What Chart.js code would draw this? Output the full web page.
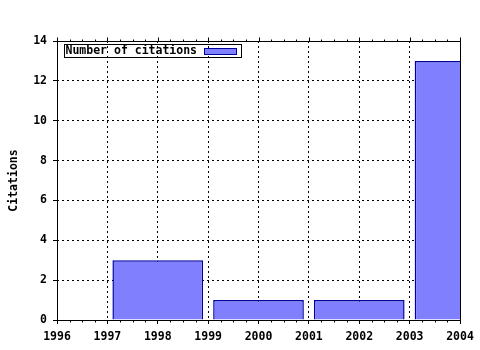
<!DOCTYPE html>
<html>
<head>
<meta charset="utf-8">
<script src="https://cdn.jsdelivr.net/npm/chart.js@4/dist/chart.umd.min.js"></script>
<style>
  html, body { margin: 0; padding: 0; background: #fff; }
  #wrap { width: 480px; height: 350px; }
</style>
</head>
<body>
<div id="wrap"><canvas id="chart" width="480" height="350"></canvas></div>
<script>
// données
const years = [1998, 2000, 2002, 2004];
const citations = [3, 1, 1, 13];
const xTicks = [1996, 1997, 1998, 1999, 2000, 2001, 2002, 2003, 2004];
const yTicks = [0, 2, 4, 6, 8, 10, 12, 14];
const seriesLabel = 'Number of citations';
const yTitle = 'Citations';

const FONT = { family: '"DejaVu Sans Mono", "Liberation Mono", monospace', size: 11.5, weight: 'bold' };
const FILL = '#8080ff';
const EDGE = '#0000a0';

// cadre, ticks miroir et légende façon gnuplot
const framePlugin = {
  id: 'frame',
  afterDraw(chart) {
    const ctx = chart.ctx;
    const a = chart.chartArea;
    const xs = chart.scales.x;
    ctx.save();
    ctx.strokeStyle = '#000';
    ctx.lineWidth = 1;
    ctx.setLineDash([]);
    const L = Math.round(a.left) + 0.5, R = Math.round(a.right) + 0.5;
    const T = Math.round(a.top) + 0.5, B = Math.round(a.bottom) + 0.5;
    ctx.strokeRect(L, T, R - L, B - T);

    // petits ticks tous les 0.25 an
    ctx.beginPath();
    for (let v = xTicks[0]; v <= xTicks[xTicks.length - 1] + 1e-6; v += 0.25) {
      const px = Math.round(xs.getPixelForValue(v)) + 0.5;
      const major = Math.abs(v - Math.round(v)) < 1e-6;
      const len = major ? 4 : 2;
      ctx.moveTo(px, T);
      ctx.lineTo(px, T - len);
      if (!major) {
        ctx.moveTo(px, B);
        ctx.lineTo(px, B + len);
      }
    }
    ctx.stroke();

    // légende
    const lx = L + 7, ly = T + 3;
    ctx.strokeRect(lx, ly, 177, 13);
    ctx.font = `${FONT.weight} ${FONT.size}px ${FONT.family}`;
    ctx.fillStyle = '#000';
    ctx.textBaseline = 'middle';
    ctx.textAlign = 'left';
    ctx.fillText(seriesLabel, lx + 1, ly + 7);
    ctx.fillStyle = FILL;
    ctx.fillRect(lx + 140, ly + 4, 32, 6);
    ctx.strokeStyle = EDGE;
    ctx.strokeRect(lx + 140, ly + 4, 32, 6);
    ctx.restore();
  }
};

new Chart(document.getElementById('chart'), {
  type: 'bar',
  data: {
    datasets: [{
      label: seriesLabel,
      data: years.map((y, i) => ({ x: y, y: citations[i] })),
      backgroundColor: FILL,
      borderColor: EDGE,
      borderWidth: 1.5,
      categoryPercentage: 1,
      barPercentage: 1.8
    }]
  },
  options: {
    responsive: false,
    animation: false,
    layout: { padding: { top: 41, right: 20, left: 0, bottom: 0 } },
    plugins: { legend: { display: false }, tooltip: { enabled: false } },
    scales: {
      x: {
        type: 'linear',
        offset: false,
        min: 1996,
        max: 2004,
        afterBuildTicks: s => { s.ticks = xTicks.map(v => ({ value: v })); },
        afterFit: s => { s.height = 30; },
        grid: { offset: false, color: '#000', lineWidth: 1, tickLength: 4, tickColor: '#000' },
        border: { display: false, dash: [2, 3] },
        ticks: { color: '#000', font: FONT, padding: 6, maxRotation: 0, callback: v => String(v) }
      },
      y: {
        min: 0,
        max: 14,
        afterBuildTicks: s => { s.ticks = yTicks.map(v => ({ value: v })); },
        afterFit: s => { s.width = 57; },
        grid: { color: '#000', lineWidth: 1, tickLength: 4, tickColor: '#000' },
        border: { display: false, dash: [2, 3] },
        ticks: { color: '#000', font: FONT, padding: 6 },
        title: { display: true, text: yTitle, color: '#000', font: FONT, padding: { top: 7, bottom: 0 } }
      }
    }
  },
  plugins: [framePlugin]
});
</script>
</body>
</html>
